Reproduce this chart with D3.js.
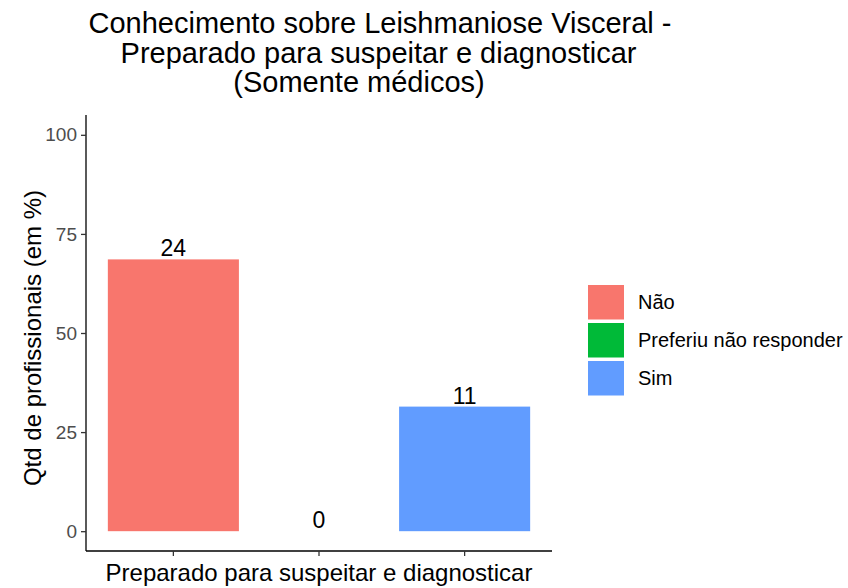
<!DOCTYPE html>
<html>
<head>
<meta charset="utf-8">
<script src="https://cdn.jsdelivr.net/npm/d3@7"></script>
<style>
  html, body { margin: 0; padding: 0; background: #fff; }
  svg { display: block; font-family: "Liberation Sans", Arial, sans-serif; }
</style>
</head>
<body>
<svg id="chart" width="848" height="588"></svg>
<script>
// ---- data ----
const categories = ["Não", "Preferiu não responder", "Sim"];
const counts = [24, 0, 11];
const percents = [68.57, 0, 31.43];
const colors = ["#F8766D", "#00BA38", "#619CFF"];
const yTicks = [0, 25, 50, 75, 100];
const titleLines = ["Conhecimento sobre Leishmaniose Visceral -", "Preparado para suspeitar e diagnosticar", "(Somente médicos)"];
const xTitle = "Preparado para suspeitar e diagnosticar";
const yTitle = "Qtd de profissionais (em %)";

// ---- layout ----
const svg = d3.select("#chart");
const panel = { left: 86, right: 552, top: 115, bottom: 551 };

const x = d3.scaleBand().domain(categories)
  .range([panel.left, panel.right]).paddingInner(0.1).paddingOuter(0.15);
const y = d3.scaleLinear().domain([-5, 105]).range([panel.bottom, panel.top]);

const rows = categories.map((c, i) => ({ c, n: counts[i], p: percents[i], col: colors[i] }));

// bars
svg.append("g").selectAll("rect").data(rows).join("rect")
  .attr("x", d => x(d.c))
  .attr("width", x.bandwidth())
  .attr("y", d => y(d.p))
  .attr("height", d => y(0) - y(d.p))
  .attr("fill", d => d.col);

// bar labels
svg.append("g").selectAll("text").data(rows).join("text")
  .attr("x", d => x(d.c) + x.bandwidth() / 2)
  .attr("y", d => y(d.p) - 3)
  .attr("text-anchor", "middle")
  .attr("font-size", 23)
  .attr("fill", "#000")
  .text(d => d.n);

// y axis
const yAxis = svg.append("g")
  .attr("transform", `translate(${panel.left},0)`)
  .call(d3.axisLeft(y).tickValues(yTicks).tickSize(5).tickPadding(4).tickSizeOuter(0));
yAxis.select(".domain").attr("stroke", "#000").attr("stroke-width", 1.3)
  .attr("d", `M0,${panel.top}V${panel.bottom}`);
yAxis.selectAll(".tick line").attr("stroke", "#333").attr("stroke-width", 1.3);
yAxis.selectAll(".tick text").attr("font-size", 19).attr("fill", "#4D4D4D")
  .attr("font-family", "Liberation Sans, Arial, sans-serif");

// x axis
const xAxis = svg.append("g")
  .attr("transform", `translate(0,${panel.bottom})`)
  .call(d3.axisBottom(x).tickSize(5).tickSizeOuter(0).tickFormat(""));
xAxis.select(".domain").attr("stroke", "#000").attr("stroke-width", 1.3)
  .attr("d", `M${panel.left},0H${panel.right}`);
xAxis.selectAll(".tick line").attr("stroke", "#333").attr("stroke-width", 1.3);

// axis titles
svg.append("text")
  .attr("x", (panel.left + panel.right) / 2)
  .attr("y", 581)
  .attr("text-anchor", "middle")
  .attr("font-size", 24)
  .attr("fill", "#000")
  .text(xTitle);

svg.append("text")
  .attr("transform", `translate(41,338) rotate(-90)`)
  .attr("text-anchor", "middle")
  .attr("font-size", 24)
  .attr("fill", "#000")
  .text(yTitle);

// title
const titleX = [380, 378.5, 359];
const titleY = [33, 63, 92];
svg.append("g").selectAll("text").data(titleLines).join("text")
  .attr("x", (d, i) => titleX[i])
  .attr("y", (d, i) => titleY[i])
  .attr("text-anchor", "middle")
  .attr("font-size", 29)
  .attr("fill", "#000")
  .text(d => d);

// legend
const legend = svg.append("g").attr("transform", "translate(588,285)");
const item = legend.selectAll("g").data(rows).join("g")
  .attr("transform", (d, i) => `translate(0,${i * 38})`);
item.append("rect").attr("width", 36).attr("height", 34.5).attr("fill", d => d.col);
item.append("text").attr("x", 50).attr("y", 17.25).attr("dy", "0.35em")
  .attr("font-size", 20).attr("fill", "#000").text(d => d.c);
</script>
</body>
</html>
